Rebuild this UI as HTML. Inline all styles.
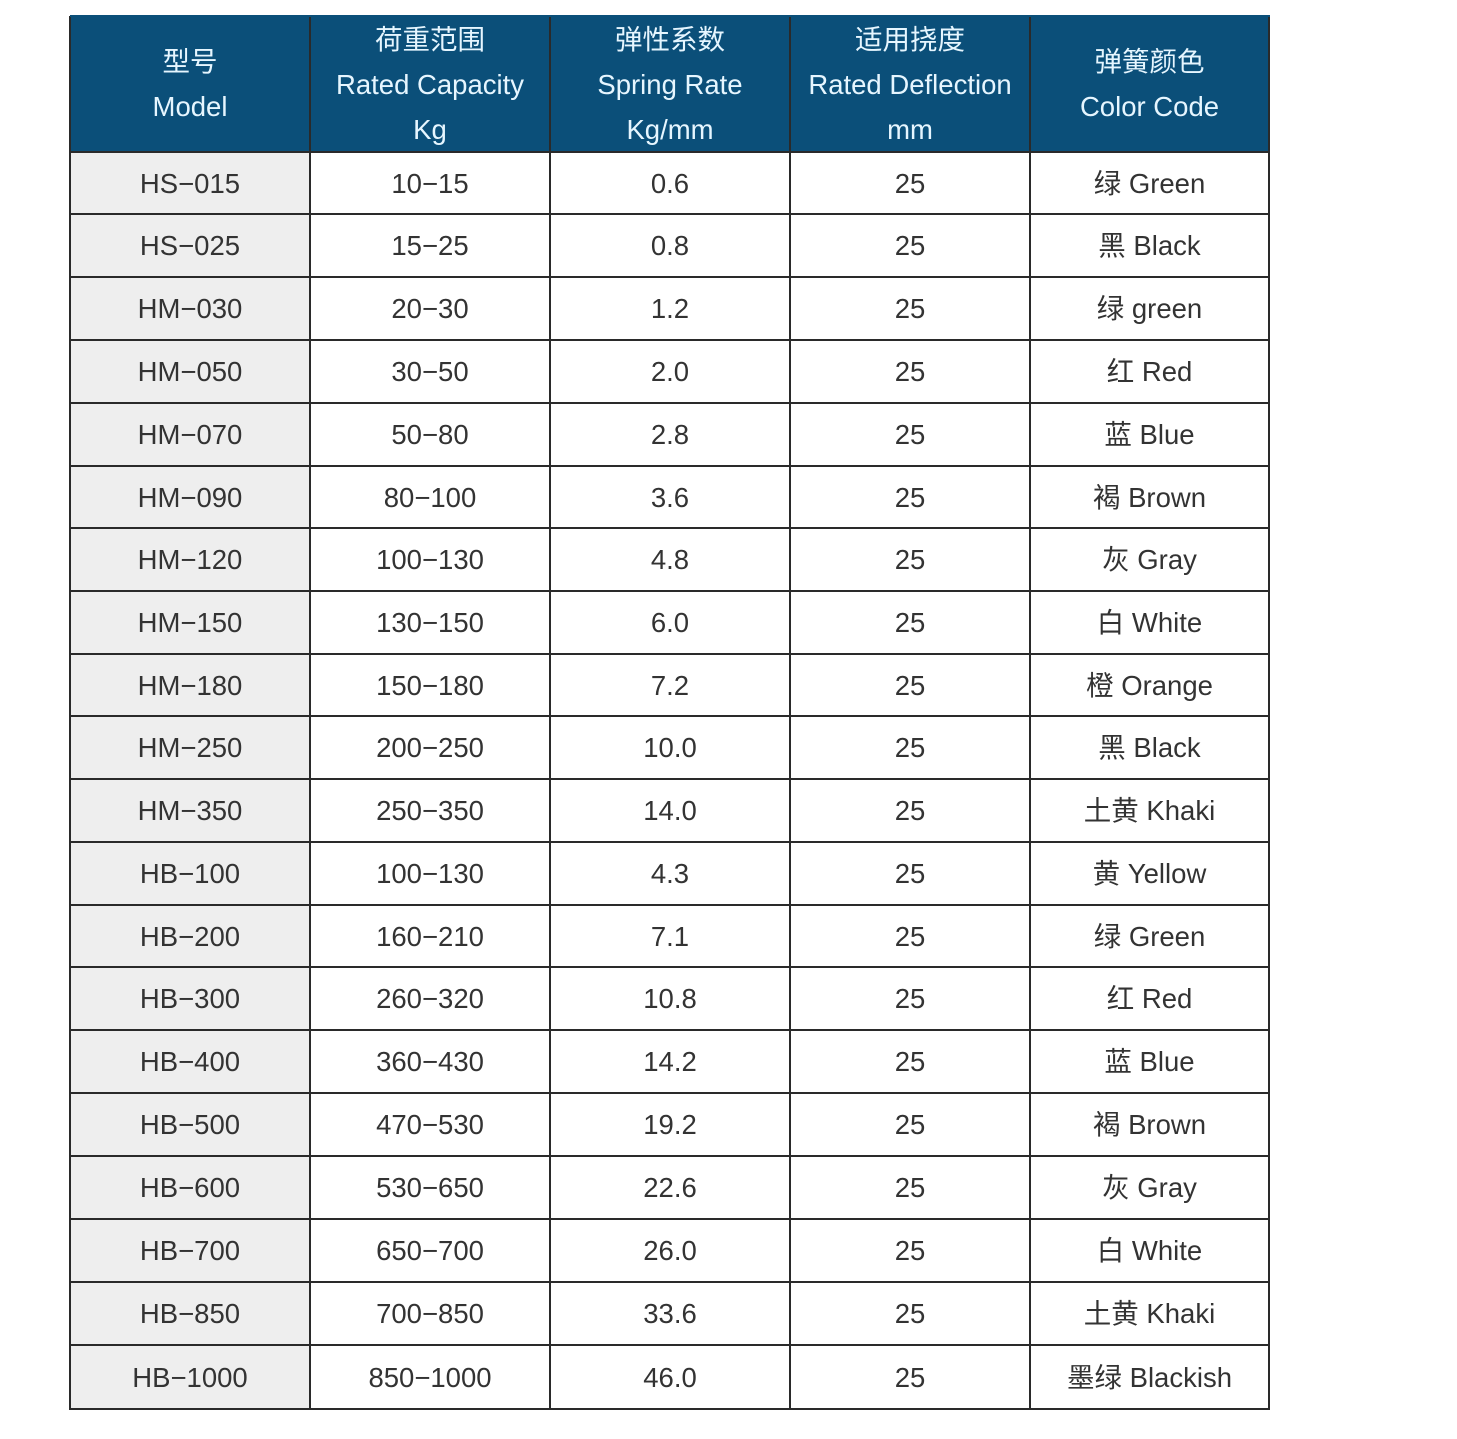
<!DOCTYPE html><html><head><meta charset="utf-8"><style>
body{margin:0;width:1457px;height:1439px;background:#fff;position:relative;overflow:hidden;font-family:"Liberation Sans","Noto Sans CJK SC",sans-serif;}
.c{position:absolute;display:flex;align-items:center;justify-content:center;text-align:center;box-sizing:border-box;font-size:27.5px;color:#333;line-height:45px}
.h{background:#0b4f79;color:#e6f6ff;flex-direction:column}
.g{background:#eeeeee}
.v{position:absolute;top:16px;height:1394px;width:2px;background:#2a2a2a}
.hl{position:absolute;left:70px;width:1200px;height:2px;background:#2a2a2a}
</style></head><body>
<div id="t"></div>
<script>
const X=[70,310,550,790,1030,1269];
const Y=[16,152,214,277,340,403,466,528,591,654,716,779,842,905,967,1030,1093,1156,1219,1282,1345,1409];
const H=[["型号<br>Model"],["荷重范围<br>Rated Capacity<br>Kg"],["弹性系数<br>Spring Rate<br>Kg/mm"],["适用挠度<br>Rated Deflection<br>mm"],["弹簧颜色<br>Color Code"]];
const R=`HS−015|10−15|0.6|绿 Green
HS−025|15−25|0.8|黑 Black
HM−030|20−30|1.2|绿 green
HM−050|30−50|2.0|红 Red
HM−070|50−80|2.8|蓝 Blue
HM−090|80−100|3.6|褐 Brown
HM−120|100−130|4.8|灰 Gray
HM−150|130−150|6.0|白 White
HM−180|150−180|7.2|橙 Orange
HM−250|200−250|10.0|黑 Black
HM−350|250−350|14.0|土黄 Khaki
HB−100|100−130|4.3|黄 Yellow
HB−200|160−210|7.1|绿 Green
HB−300|260−320|10.8|红 Red
HB−400|360−430|14.2|蓝 Blue
HB−500|470−530|19.2|褐 Brown
HB−600|530−650|22.6|灰 Gray
HB−700|650−700|26.0|白 White
HB−850|700−850|33.6|土黄 Khaki
HB−1000|850−1000|46.0|墨绿 Blackish`.split("\n").map(l=>{const p=l.split("|");return [p[0],p[1],p[2],"25",p[3]]});
let s="";
for(let j=0;j<5;j++)s+=`<div class="c h" style="left:${X[j]}px;top:${Y[0]}px;width:${X[j+1]-X[j]}px;height:${Y[1]-Y[0]}px">${H[j]}</div>`;
R.forEach((r,i)=>{for(let j=0;j<5;j++)s+=`<div class="c${j==0?' g':''}" style="left:${X[j]}px;top:${Y[i+1]}px;width:${X[j+1]-X[j]}px;height:${Y[i+2]-Y[i+1]}px">${r[j]}</div>`;});
X.forEach(x=>s+=`<div class="v" style="left:${x-1}px"></div>`);
Y.slice(1).forEach(y=>s+=`<div class="hl" style="top:${y-1}px"></div>`);
s+=`<div class="hl" style="top:15px;background:#0b4f79"></div>`;
document.getElementById("t").innerHTML=s;
</script></body></html>
